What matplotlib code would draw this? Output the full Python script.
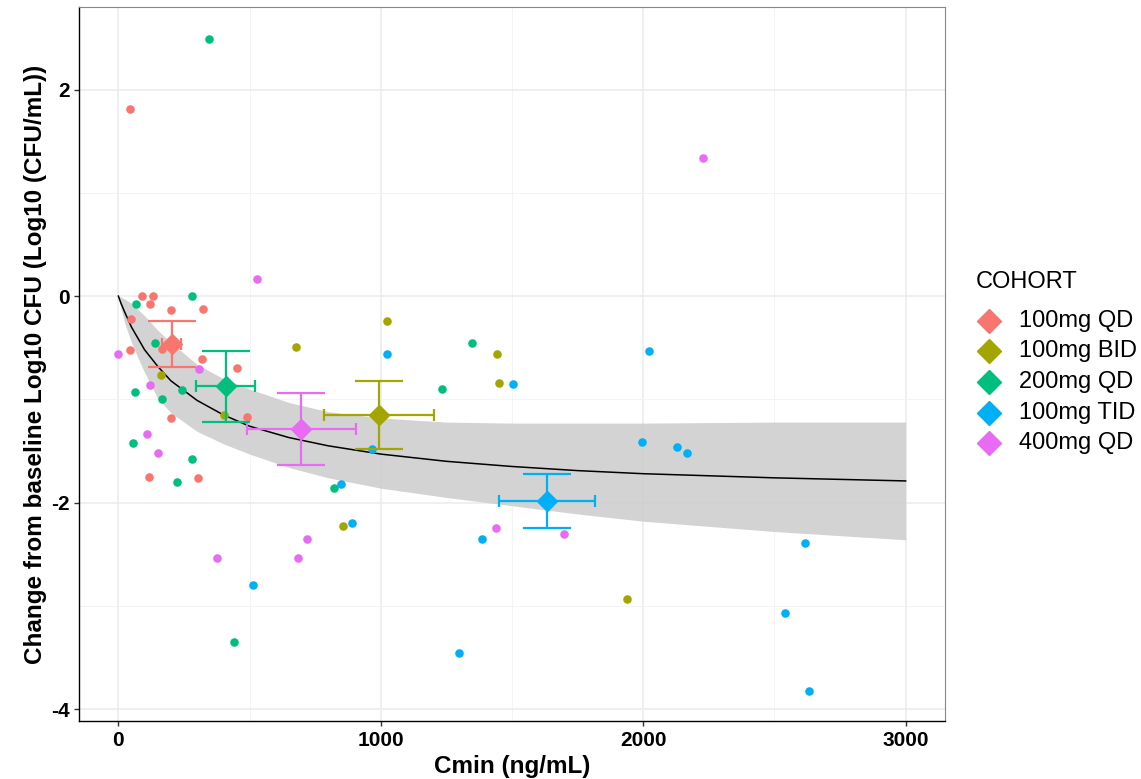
import numpy as np
import matplotlib
matplotlib.use("Agg")
import matplotlib.pyplot as plt
from matplotlib.lines import Line2D

plt.rcParams['font.family'] = ['Liberation Sans', 'DejaVu Sans']
plt.rcParams['axes.unicode_minus'] = False

# cohorts and ggplot default hue colours
cohorts = ["100mg QD", "100mg BID", "200mg QD", "100mg TID", "400mg QD"]
colors = ["#F8766D", "#A3A500", "#00BF7D", "#00B0F6", "#E76BF3"]

# individual subjects: Cmin (ng/mL) and change from baseline
cmin_100qd = [43, 89, 132, 121, 200, 324, 50, 45, 165, 319, 451, 200, 489, 118, 303]
cfu_100qd = [1.81, 0.00, 0.00, -0.08, -0.13, -0.12, -0.22, -0.52, -0.51, -0.61, -0.70, -1.18, -1.17, -1.75, -1.76]

cmin_100bid = [676, 162, 404, 856, 1023, 1442, 1452, 1940]
cfu_100bid = [-0.49, -0.76, -1.15, -2.23, -0.24, -0.56, -0.84, -2.93]

cmin_200qd = [345, 281, 69, 141, 65, 167, 242, 56, 281, 224, 823, 1349, 1235, 441]
cfu_200qd = [2.49, 0.00, -0.08, -0.45, -0.93, -1.00, -0.91, -1.42, -1.58, -1.80, -1.86, -0.45, -0.90, -3.35]

cmin_100tid = [848, 889, 967, 1024, 1504, 1384, 512, 1298, 2021, 1994, 2128, 2165, 2616, 2540, 2633]
cfu_100tid = [-1.82, -2.20, -1.48, -0.56, -0.85, -2.35, -2.80, -3.46, -0.53, -1.41, -1.46, -1.52, -2.39, -3.07, -3.82]

cmin_400qd = [530, 0, 122, 309, 111, 152, 376, 718, 685, 1439, 1697, 2229]
cfu_400qd = [0.17, -0.56, -0.86, -0.71, -1.34, -1.52, -2.54, -2.35, -2.54, -2.25, -2.30, 1.34]

# model prediction (Emax fit) with its interval
pred_cmin = [0, 10, 25, 50, 75, 100, 150, 200, 300, 400, 500, 650, 800, 1000,
             1250, 1500, 1750, 2000, 2500, 3000]
pred_mid = [0, -0.07, -0.16, -0.30, -0.41, -0.52, -0.68, -0.82, -1.01, -1.15, -1.26,
            -1.37, -1.45, -1.53, -1.60, -1.65, -1.69, -1.72, -1.76, -1.79]
pred_hi = [0, -0.01, -0.03, -0.07, -0.13, -0.19, -0.33, -0.45, -0.66, -0.80, -0.90,
           -1.03, -1.12, -1.18, -1.22, -1.23, -1.23, -1.23, -1.22, -1.22]
pred_lo = [0, -0.12, -0.27, -0.45, -0.60, -0.74, -0.99, -1.13, -1.31, -1.43, -1.53,
           -1.66, -1.76, -1.86, -1.95, -2.03, -2.11, -2.18, -2.28, -2.36]

groups = [
    (cmin_100qd, cfu_100qd),
    (cmin_100bid, cfu_100bid),
    (cmin_200qd, cfu_200qd),
    (cmin_100tid, cfu_100tid),
    (cmin_400qd, cfu_400qd),
]

W, H = 1141, 779
fig = plt.figure(figsize=(W / 100, H / 100), dpi=100)
ax = fig.add_axes([79 / W, 1 - 721 / H, (945 - 79) / W, (721 - 7) / H])

ax.fill_between(pred_cmin, pred_lo, pred_hi, color="#CCCCCC", alpha=0.85, lw=0, zorder=2)
ax.plot(pred_cmin, pred_mid, color="black", lw=1.1, zorder=3)

# raw points
for (xs, ys), col in zip(groups, colors):
    ax.scatter(xs, ys, s=38, color=col, lw=0, zorder=4)

# cohort mean +/- SE
for (xs, ys), col in zip(groups, colors):
    xs = np.array(xs, dtype=float)
    ys = np.array(ys, dtype=float)
    mx, my = xs.mean(), ys.mean()
    sx = xs.std(ddof=1) / np.sqrt(len(xs))
    sy = ys.std(ddof=1) / np.sqrt(len(ys))
    ax.errorbar(mx, my, yerr=sy, fmt="none", ecolor=col, elinewidth=1.6,
                capsize=17.3, capthick=1.6, zorder=5)
    ax.errorbar(mx, my, xerr=sx, fmt="none", ecolor=col, elinewidth=1.6,
                capsize=4.5, capthick=1.6, zorder=5)
    ax.plot(mx, my, marker="D", ms=10.5, color=col, mec=col, zorder=6)

ax.set_xlim(-150, 3150)
ax.set_ylim(-4.115, 2.80)
ax.set_xticks([0, 1000, 2000, 3000])
ax.set_xticks([500, 1500, 2500], minor=True)
ax.set_yticks([-4, -2, 0, 2])
ax.set_yticks([-3, -1, 1], minor=True)
ax.grid(which="major", color="#EBEBEB", lw=1.1, zorder=0)
ax.grid(which="minor", color="#F2F2F2", lw=0.6, zorder=0)
ax.set_axisbelow(True)

for s in ["left", "bottom"]:
    ax.spines[s].set_color("black")
    ax.spines[s].set_linewidth(1.0)
for s in ["top", "right"]:
    ax.spines[s].set_color("#888888")
    ax.spines[s].set_linewidth(0.8)

ax.tick_params(which="major", length=3.4, width=1, color="#333333", pad=3.5,
               labelsize=15, labelcolor="black")
ax.tick_params(which="minor", length=0)
for lab in ax.get_xticklabels() + ax.get_yticklabels():
    lab.set_fontweight("bold")

ax.set_xlabel("Cmin (ng/mL)", fontsize=17.5, fontweight="bold", labelpad=4)
ax.set_ylabel("Change from baseline Log10 CFU (Log10 (CFU/mL))", fontsize=17.5,
              fontweight="bold", labelpad=3)

# legend on the right
fig.text(976 / W, 1 - 282 / H, "COHORT", fontsize=17, va="center", ha="left")
for i, (lab, col) in enumerate(zip(cohorts, colors)):
    yy = 1 - (321 + i * 30.5) / H
    fig.add_artist(Line2D([989 / W], [yy], marker="D", ms=12, color=col, lw=0,
                          transform=fig.transFigure))
    fig.text(1019 / W, yy, lab, fontsize=17, va="center", ha="left")

fig.savefig("out.png", dpi=100, facecolor="white")
